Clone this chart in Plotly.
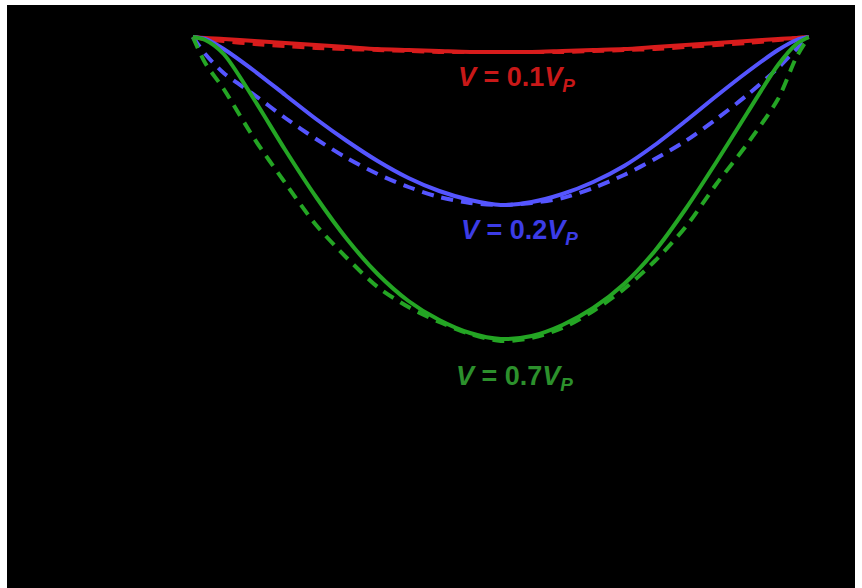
import plotly.graph_objects as go

# Normalised position along the span
position = [0, 0.02, 0.05, 0.1, 0.15, 0.2, 0.25, 0.3, 0.35, 0.4, 0.45, 0.5,
            0.55, 0.6, 0.65, 0.7, 0.75, 0.8, 0.85, 0.9, 0.95, 0.98, 1.0]

# Deflection (arbitrary units, downward negative)
red_solid = [0, -1, -2, -4, -6, -8, -10, -12, -13, -14, -15, -15,
             -15, -14, -13, -12, -10, -8, -6, -4, -2, -1, 0]
red_dash = [0, -2, -4, -7, -9, -11, -12, -13, -14, -15, -15, -15,
            -15, -15, -14, -13, -12, -10, -8, -6, -3, -1, 0]
blue_solid = [0, -2, -12, -34, -58, -82, -104, -124, -141, -154, -163, -168,
              -165, -157, -145, -129, -108, -84, -59, -35, -13, -3, 0]
blue_dash = [0, -17, -36, -58, -81, -102, -121, -137, -150, -160, -166, -168,
             -166, -161, -151, -138, -122, -104, -82, -58, -31, -12, 0]
green_solid = [0, -3, -17, -63, -113, -160, -202, -237, -264, -283, -296, -302,
               -299, -288, -271, -247, -214, -172, -125, -76, -28, -7, 0]
green_dash = [0, -26, -52, -102, -146, -188, -221, -250, -270, -285, -297, -304,
              -301, -291, -274, -252, -224, -190, -147, -107, -62, -20, 0]

labels = ["<b><i>V</i> = 0.1<i>V</i><sub><i>P</i></sub></b>",
          "<b><i>V</i> = 0.2<i>V</i><sub><i>P</i></sub></b>",
          "<b><i>V</i> = 0.7<i>V</i><sub><i>P</i></sub></b>"]
label_x = [0.525, 0.53, 0.522]
label_y = [-42, -195, -341]

RED = "#d81c1c"
BLUE = "#5555ff"
GREEN = "#24a524"
TXT = ["#c81818", "#3c3ce6", "#2c902c"]

fig = go.Figure()
for ys, col in [(red_dash, RED), (blue_dash, BLUE), (green_dash, GREEN)]:
    fig.add_trace(go.Scatter(x=position, y=ys, mode="lines",
                             line=dict(color=col, width=4, dash="12px,8px",
                                       shape="spline", smoothing=0.8),
                             showlegend=False, hoverinfo="skip"))
for ys, col in [(red_solid, RED), (blue_solid, BLUE), (green_solid, GREEN)]:
    fig.add_trace(go.Scatter(x=position, y=ys, mode="lines",
                             line=dict(color=col, width=4,
                                       shape="spline", smoothing=0.8),
                             showlegend=False, hoverinfo="skip"))

for t, x, y, c in zip(labels, label_x, label_y, TXT):
    fig.add_annotation(x=x, y=y, text=t, showarrow=False,
                       font=dict(family="Liberation Sans, Arial", size=27, color=c))

fig.update_layout(
    width=862, height=588,
    margin=dict(l=7, r=7, t=5, b=0),
    paper_bgcolor="white", plot_bgcolor="black",
    xaxis=dict(range=[-0.3018, 1.0750], visible=False, showgrid=False, zeroline=False),
    yaxis=dict(range=[-551, 32], visible=False, showgrid=False, zeroline=False),
)
fig.write_html("out.html", config={"displayModeBar": False},
               post_script="document.body.style.margin='0px';document.body.style.overflow='hidden';")
